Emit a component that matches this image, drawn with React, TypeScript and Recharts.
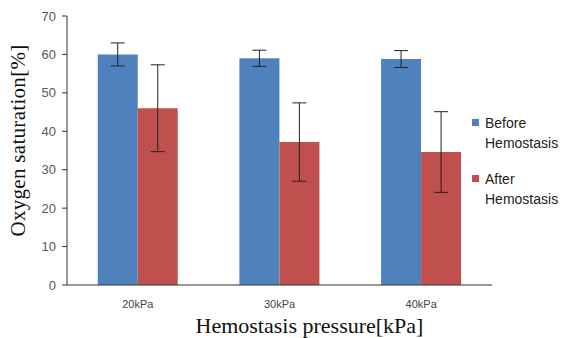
import React from 'react';
import { BarChart, Bar, XAxis, YAxis, ErrorBar, Legend } from 'recharts';

const categories = ['20kPa', '30kPa', '40kPa'];
const beforeValues = [60.0, 59.0, 58.8];
const beforeErrors = [3.0, 2.1, 2.2];
const afterValues = [46.0, 37.2, 34.6];
const afterErrors = [11.3, 10.2, 10.5];
const yTicks = [0, 10, 20, 30, 40, 50, 60, 70];
const seriesNames = ['Before Hemostasis', 'After Hemostasis'];
const colors = ['#4F81BD', '#C0504D'];

const data = categories.map((c, i) => ({
  name: c,
  before: beforeValues[i],
  beforeErr: beforeErrors[i],
  after: afterValues[i],
  afterErr: afterErrors[i],
}));

const LegendContent = () => (
  <div style={{ fontFamily: 'Liberation Sans, sans-serif', fontSize: 14, color: '#222', lineHeight: '20px' }}>
    {seriesNames.map((n, i) => {
      const [a, b] = n.split(' ');
      return (
        <div key={n} style={{ position: 'relative', paddingLeft: 13, marginBottom: i === 0 ? 16 : 0 }}>
          <span style={{ position: 'absolute', left: 0, top: 6, width: 7, height: 7, background: colors[i] }} />
          <div>{a}</div>
          <div>{b}</div>
        </div>
      );
    })}
  </div>
);

const YTitle = (props: any) => {
  const vb = props.viewBox || {};
  const cx = (vb.x || 0) + 18;
  const cy = (vb.y || 0) + (vb.height || 0) / 2 - 10;
  return (
    <text
      x={cx}
      y={cy}
      transform={`rotate(-90, ${cx}, ${cy})`}
      textAnchor="middle"
      dominantBaseline="central"
      style={{ fontSize: 21, fill: '#111', fontFamily: 'Liberation Serif, serif', letterSpacing: 0.3 }}
    >
      Oxygen saturation[%]
    </text>
  );
};

export default function App() {
  return (
    <div style={{ position: 'absolute', left: 0, top: 0 }}>
      <BarChart
        width={563}
        height={338}
        data={data}
        margin={{ top: 16, right: 71, bottom: 0, left: 0 }}
        barCategoryGap="21.7%"
        barGap={0}
      >
        <XAxis
          xAxisId="b"
          type="number"
          domain={[0, 3]}
          ticks={[1, 2]}
          height={0}
          axisLine={false}
          mirror
          tick={<g />}
          tickSize={4}
          tickLine={{ stroke: '#333' }}
        />
        <XAxis
          dataKey="name"
          height={53}
          axisLine={{ stroke: '#333', strokeWidth: 1 }}
          tickLine={false}
          tickMargin={9}
          tick={{ fontSize: 11, fill: '#444', fontFamily: 'Liberation Sans, sans-serif' }}
          label={{
            value: 'Hemostasis pressure[kPa]',
            position: 'insideBottom',
            offset: 5,
            dx: 30,
            style: { fontSize: 22, fill: '#111', fontFamily: 'Liberation Serif, serif' },
          }}
        />
        <YAxis
          width={67}
          domain={[0, 70]}
          ticks={yTicks}
          interval={0}
          axisLine={{ stroke: '#333', strokeWidth: 1 }}
          tickLine={{ stroke: '#333' }}
          tickSize={5}
          tickMargin={6}
          tick={{ fontSize: 13, fill: '#595959', fontFamily: 'Liberation Sans, sans-serif' }}
          label={<YTitle />}
        />
        <Legend
          layout="vertical"
          align="center"
          verticalAlign="middle"
          content={<LegendContent />}
          wrapperStyle={{ position: 'absolute', left: 472, top: 113, width: 95 }}
        />
        <Bar dataKey="before" name={seriesNames[0]} fill={colors[0]} isAnimationActive={false}>
          <ErrorBar dataKey="beforeErr" width={7} stroke="#222" strokeWidth={1} />
        </Bar>
        <Bar dataKey="after" name={seriesNames[1]} fill={colors[1]} isAnimationActive={false}>
          <ErrorBar dataKey="afterErr" width={7} stroke="#222" strokeWidth={1} />
        </Bar>
      </BarChart>
    </div>
  );
}
